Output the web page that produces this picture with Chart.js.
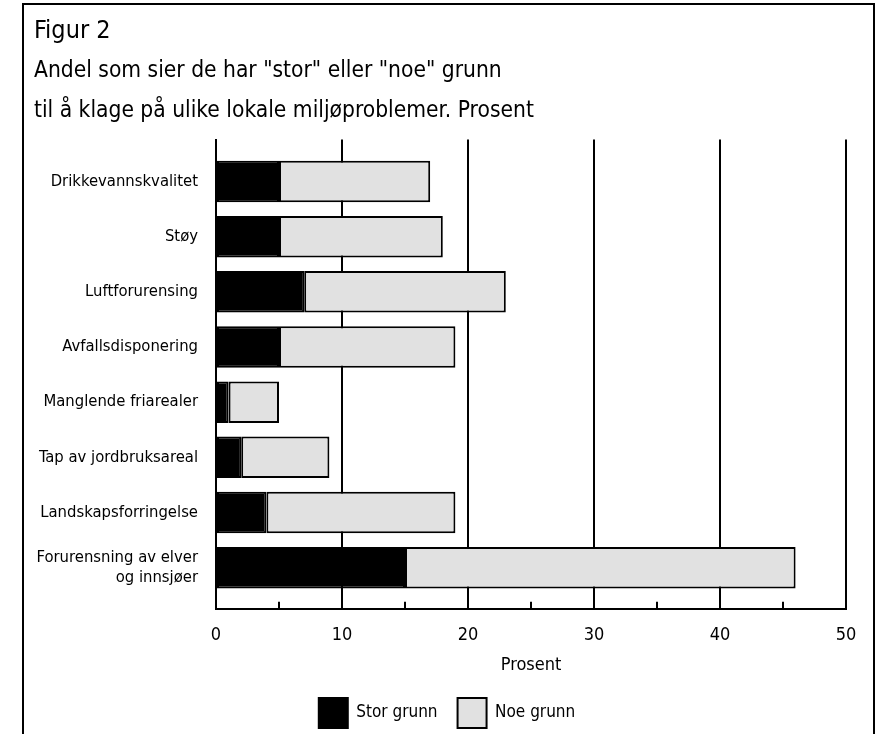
<!DOCTYPE html>
<html>
<head>
<meta charset="utf-8">
<script src="https://cdn.jsdelivr.net/npm/chart.js@4"></script>
<style>
  html, body { margin: 0; padding: 0; background: #fff; }
  #wrap { position: relative; width: 877px; height: 734px; overflow: hidden; }
  #frame { position: absolute; left: 22px; top: 3px; width: 849px; height: 760px;
           border: 2px solid #000; border-bottom: none; }
  #c { position: absolute; left: 0; top: 0; }
</style>
</head>
<body>
<div id="wrap">
  <div id="frame"></div>
  <canvas id="c" width="877" height="734"></canvas>
</div>
<script>
const figureLabel = 'Figur 2';
const subtitleLines = [
  'Andel som sier de har "stor" eller "noe" grunn',
  'til å klage på ulike lokale miljøproblemer. Prosent'
];
const categories = [
  'Drikkevannskvalitet',
  'Støy',
  'Luftforurensing',
  'Avfallsdisponering',
  'Manglende friarealer',
  'Tap av jordbruksareal',
  'Landskapsforringelse',
  ['Forurensning av elver', 'og innsjøer']
];
const storGrunn = [5, 5, 7, 5, 1, 2, 4, 15];
const noeGrunn  = [12, 13, 16, 14, 4, 7, 15, 31];
const seriesNames = ['Stor grunn', 'Noe grunn'];
const xTicks = [0, 10, 20, 30, 40, 50];
const minorTicks = [5, 15, 25, 35, 45];
const axisTitle = 'Prosent';

const FONT = "'DejaVu Sans Condensed', 'Liberation Sans', sans-serif";
Chart.defaults.font.family = FONT;
Chart.defaults.color = '#000';

const minorTickPlugin = {
  id: 'minorTicks',
  afterDatasetsDraw(chart) {
    const xs = chart.scales.x, ctx = chart.ctx, b = chart.chartArea.bottom;
    ctx.save();
    ctx.strokeStyle = '#000';
    ctx.lineWidth = 2;
    minorTicks.forEach(v => {
      const px = xs.getPixelForValue(v);
      ctx.beginPath();
      ctx.moveTo(px, b);
      ctx.lineTo(px, b - 7);
      ctx.stroke();
    });
    ctx.restore();
  }
};
const legendShift = {
  id: 'legendShift',
  afterLayout(chart) {
    const L = chart.legend;
    if (L) { L.left += 7; L.right += 7; }
  }
};

new Chart(document.getElementById('c'), {
  type: 'bar',
  data: {
    datasets: [
      {
        label: seriesNames[0],
        data: storGrunn.map((v, i) => ({ x: v, y: i })),
        backgroundColor: '#000',
        borderColor: '#000',
        borderWidth: 2,
        borderSkipped: false,
        categoryPercentage: 0.8,
        barPercentage: 0.94
      },
      {
        label: seriesNames[1],
        data: noeGrunn.map((v, i) => ({ x: v, y: i })),
        backgroundColor: '#e1e1e1',
        borderColor: '#000',
        borderWidth: 2,
        borderSkipped: false,
        categoryPercentage: 0.8,
        barPercentage: 0.94
      }
    ]
  },
  options: {
    indexAxis: 'y',
    responsive: false,
    animation: false,
    layout: { padding: { left: 34, right: 31, top: 0, bottom: -4 } },
    scales: {
      x: {
        type: 'linear',
        stacked: true,
        min: 0,
        max: 50,
        afterBuildTicks: s => { s.ticks = xTicks.map(v => ({ value: v })); },
        grid: { display: true, color: '#000', lineWidth: 2, drawTicks: false },
        border: { display: true, color: '#000', width: 2 },
        ticks: { font: { size: 18 }, padding: 16, color: '#000' },
        title: { display: true, text: axisTitle, font: { size: 18 }, color: '#000', padding: { top: -8, bottom: 2 } }
      },
      y: {
        type: 'linear',
        stacked: true,
        reverse: true,
        offset: false,
        min: -0.761,
        max: 7.745,
        afterBuildTicks: s => { s.ticks = categories.map((c, i) => ({ value: i })); },
        afterFit: s => { s.width = 182; },
        grid: { display: true, offset: false, drawOnChartArea: false, drawTicks: false },
        border: { display: true, color: '#000', width: 2 },
        ticks: {
          autoSkip: false,
          font: { size: 16.5, lineHeight: 1.18 },
          padding: 18,
          color: '#000',
          callback: v => categories[v]
        }
      }
    },
    plugins: {
      title: {
        display: true,
        text: figureLabel,
        align: 'start',
        color: '#000',
        font: { size: 25, weight: 'normal', lineHeight: 40 / 25 },
        padding: { top: 11, bottom: 0 }
      },
      subtitle: {
        display: true,
        text: subtitleLines,
        align: 'start',
        color: '#000',
        font: { size: 22.6, weight: 'normal', lineHeight: 40 / 22.6 },
        padding: { top: 0, bottom: 8.5 }
      },
      legend: {
        display: true,
        position: 'bottom',
        labels: {
          boxWidth: 29,
          boxHeight: 30,
          padding: 20,
          color: '#000',
          font: { size: 17 }
        }
      },
      tooltip: { enabled: false }
    }
  },
  plugins: [minorTickPlugin, legendShift]
});
</script>
</body>
</html>
